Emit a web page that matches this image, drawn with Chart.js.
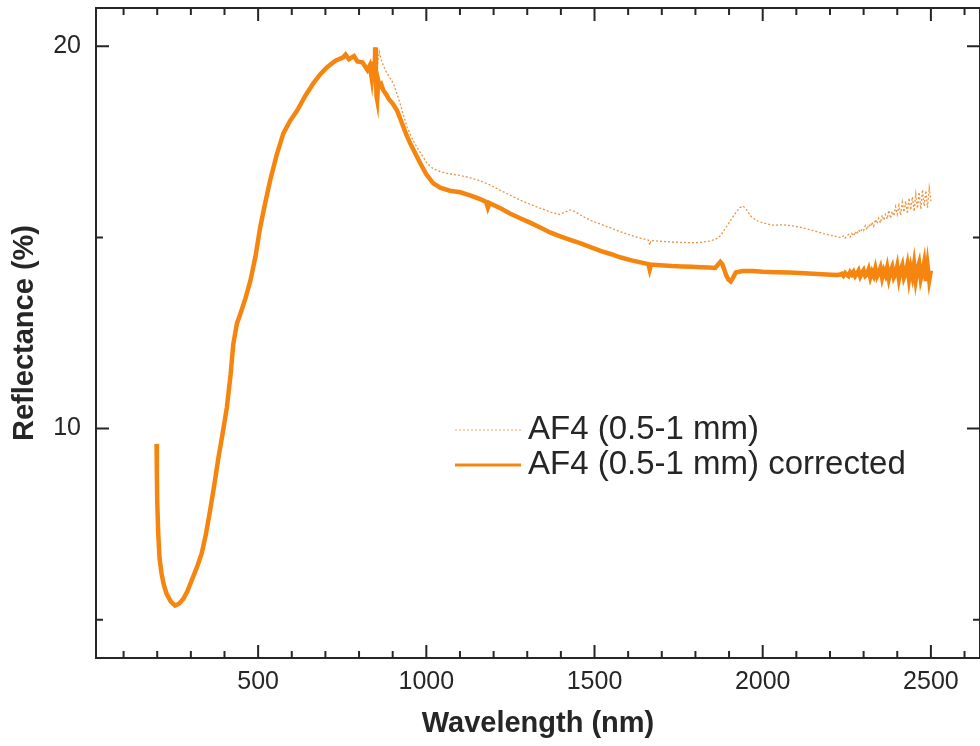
<!DOCTYPE html>
<html>
<head>
<meta charset="utf-8">
<title>Reflectance AF4</title>
<script src="https://cdn.jsdelivr.net/npm/chart.js@4.4.0/dist/chart.umd.min.js"></script>
<style>
  html, body { margin: 0; padding: 0; background: #fff; }
  #wrap { width: 980px; height: 746px; position: relative; }
</style>
</head>
<body>
<div id="wrap"><canvas id="spectrum"></canvas></div>
<script>
// values (wavelength in nm, reflectance in %)
// part where both curves coincide
const wlShared = [198, 199, 200, 203, 207, 213, 220, 228, 240, 253, 265, 278, 290, 302, 317, 332, 345, 357, 370, 382, 395, 407, 418, 426, 437, 447, 462, 477, 492, 506, 521, 536, 555, 575, 595, 616, 640, 664, 685, 705, 730, 753, 760, 770, 785, 795, 810, 825, 832, 838];
const reflShared = [9.6, 8.8, 8.1, 7.25, 6.6, 6.2, 5.9, 5.68, 5.48, 5.37, 5.42, 5.55, 5.75, 6.02, 6.35, 6.73, 7.25, 7.85, 8.55, 9.24, 9.9, 10.55, 11.4, 12.2, 12.75, 13.0, 13.4, 13.87, 14.5, 15.26, 15.9, 16.5, 17.15, 17.72, 18.05, 18.32, 18.7, 19.03, 19.27, 19.45, 19.62, 19.71, 19.78, 19.66, 19.74, 19.6, 19.58, 19.38, 19.5, 19.15];

// raw spectrum after the detector change
const wlRaw = [843, 846, 848, 850, 853, 856, 860, 864, 872, 880, 890, 902, 913, 922, 932, 943, 957, 972, 987, 1002, 1020, 1041, 1070, 1101, 1130, 1160, 1190, 1220, 1250, 1280, 1310, 1340, 1370, 1395, 1412, 1428, 1445, 1465, 1490, 1520, 1550, 1576, 1610, 1640, 1660, 1664, 1668, 1695, 1730, 1760, 1790, 1814, 1840, 1860, 1875, 1890, 1905, 1920, 1932, 1942, 1952, 1965, 1980, 2000, 2030, 2060, 2090, 2120, 2150, 2180, 2210, 2230];
const reflRaw = [19.6, 19.3, 19.97, 19.5, 19.2, 19.6, 19.85, 19.7, 19.5, 19.35, 19.2, 19.03, 18.75, 18.5, 18.2, 17.88, 17.6, 17.36, 17.15, 16.94, 16.8, 16.72, 16.66, 16.62, 16.56, 16.48, 16.37, 16.23, 16.1, 15.97, 15.86, 15.76, 15.66, 15.6, 15.66, 15.72, 15.66, 15.55, 15.44, 15.34, 15.24, 15.15, 15.05, 14.97, 14.93, 14.8, 14.92, 14.9, 14.88, 14.87, 14.86, 14.87, 14.9, 14.95, 15.05, 15.25, 15.45, 15.65, 15.78, 15.82, 15.72, 15.55, 15.45, 15.38, 15.32, 15.33, 15.3, 15.25, 15.18, 15.1, 15.04, 15.0];

// corrected spectrum after the detector change
const wlCorr = [843, 846, 848, 850, 852, 854, 857, 861, 866, 872, 880, 890, 900, 913, 928, 940, 952, 967, 982, 1000, 1020, 1041, 1070, 1101, 1130, 1160, 1178, 1183, 1188, 1200, 1220, 1250, 1279, 1310, 1340, 1368, 1400, 1430, 1457, 1490, 1520, 1550, 1576, 1610, 1640, 1660, 1664, 1668, 1695, 1730, 1760, 1790, 1814, 1840, 1859, 1868, 1874, 1880, 1886, 1892, 1898, 1905, 1912, 1920, 1940, 1970, 2000, 2040, 2080, 2111, 2150, 2190, 2220, 2230];
const reflCorr = [19.6, 19.1, 19.97, 19.3, 18.7, 18.6, 19.1, 18.95, 19.0, 18.85, 18.75, 18.6, 18.5, 18.32, 17.98, 17.7, 17.46, 17.2, 16.94, 16.65, 16.42, 16.3, 16.22, 16.18, 16.1, 16.0, 15.93, 15.78, 15.9, 15.85, 15.76, 15.62, 15.5, 15.38, 15.25, 15.13, 15.02, 14.93, 14.85, 14.74, 14.64, 14.56, 14.48, 14.4, 14.34, 14.3, 14.16, 14.29, 14.27, 14.25, 14.24, 14.23, 14.22, 14.21, 14.2, 14.3, 14.36, 14.3, 14.15, 14.0, 13.9, 13.85, 13.95, 14.08, 14.12, 14.12, 14.1, 14.09, 14.08, 14.07, 14.05, 14.03, 14.02, 14.03];

// noisy tail of both spectra
const wlTail = [2235, 2240, 2245, 2250, 2255, 2260, 2265, 2270, 2275, 2280, 2285, 2290, 2295, 2300, 2305, 2310, 2315, 2320, 2325, 2330, 2335, 2340, 2345, 2350, 2355, 2360, 2365, 2370, 2375, 2380, 2385, 2390, 2395, 2400, 2405, 2410, 2415, 2420, 2425, 2430, 2435, 2440, 2445, 2450, 2455, 2460, 2465, 2470, 2475, 2480, 2485, 2490, 2495, 2500];
const reflRawTail = [15.0, 15.04, 14.98, 15.03, 15.08, 15.01, 15.1, 15.04, 15.15, 15.08, 15.2, 15.14, 15.22, 15.18, 15.31, 15.2, 15.34, 15.28, 15.4, 15.29, 15.47, 15.36, 15.5, 15.38, 15.58, 15.45, 15.6, 15.48, 15.71, 15.5, 15.68, 15.56, 15.8, 15.6, 15.84, 15.58, 15.92, 15.66, 15.95, 15.62, 16.03, 15.72, 16.06, 15.68, 16.14, 15.76, 16.18, 15.74, 16.25, 15.82, 16.22, 15.78, 16.3, 15.95];
const reflCorrTail = [14.05, 14.0, 14.07, 14.02, 13.99, 14.09, 14.03, 14.1, 13.99, 14.05, 14.13, 13.98, 14.07, 14.14, 13.99, 14.03, 14.16, 13.96, 14.1, 14.0, 14.19, 13.98, 14.07, 14.2, 13.95, 14.13, 14.02, 14.21, 13.93, 14.12, 14.23, 13.96, 14.05, 14.25, 13.92, 14.14, 14.27, 13.95, 14.07, 14.28, 13.91, 14.2, 13.99, 14.3, 13.89, 14.16, 14.32, 13.92, 14.1, 14.34, 13.86, 14.27, 13.88, 14.13];

// axis ticks
const xMajorTicks = [500, 1000, 1500, 2000, 2500];
const xMinorTicks = [100, 200, 300, 400, 600, 700, 800, 900, 1100, 1200, 1300, 1400, 1600, 1700, 1800, 1900, 2100, 2200, 2300, 2400, 2600];
const yMajorTicks = [10, 20];
const yMinorTicks = [5, 15];

const seriesNames = ['AF4 (0.5-1 mm)', 'AF4 (0.5-1 mm) corrected'];

function toPoints(xs, ys) {
    return xs.map((x, i) => ({ x: x, y: ys[i] }));
}

const rawPoints = toPoints(wlShared, reflShared)
    .concat(toPoints(wlRaw, reflRaw), toPoints(wlTail, reflRawTail));
const corrPoints = toPoints(wlShared, reflShared)
    .concat(toPoints(wlCorr, reflCorr), toPoints(wlTail, reflCorrTail));

const FONT = '"Liberation Sans", Arial, Helvetica, sans-serif';
const INK = '#262626';

// frame with inward ticks on all four sides, plus the legend inside the plot
const framePlugin = {
    id: 'frame',
    afterDraw(chart) {
        const { ctx, chartArea: a, scales: { x, y } } = chart;
        ctx.save();
        ctx.strokeStyle = INK;
        ctx.lineWidth = 2;
        ctx.strokeRect(a.left, a.top, a.right - a.left, a.bottom - a.top);

        ctx.beginPath();
        const vTick = (v, len) => {
            const px = x.getPixelForValue(v);
            ctx.moveTo(px, a.bottom); ctx.lineTo(px, a.bottom - len);
            ctx.moveTo(px, a.top); ctx.lineTo(px, a.top + len);
        };
        const hTick = (v, len) => {
            const py = y.getPixelForValue(v);
            ctx.moveTo(a.left, py); ctx.lineTo(a.left + len, py);
            ctx.moveTo(a.right, py); ctx.lineTo(a.right - len, py);
        };
        xMajorTicks.forEach(v => vTick(v, 13));
        xMinorTicks.forEach(v => vTick(v, 7));
        yMajorTicks.forEach(v => hTick(v, 13));
        yMinorTicks.forEach(v => hTick(v, 7));
        ctx.stroke();

        // legend
        const lx = 455, ly = 430, rowGap = 35;
        chart.data.datasets.forEach((ds, i) => {
            const yy = ly + i * rowGap;
            ctx.beginPath();
            ctx.strokeStyle = i === 0 ? '#f3c493' : ds.borderColor;
            ctx.lineWidth = i === 0 ? 1.5 : 3;
            ctx.setLineDash(ds.borderDash || []);
            ctx.moveTo(lx, yy);
            ctx.lineTo(lx + 66, yy);
            ctx.stroke();
            ctx.setLineDash([]);
            ctx.fillStyle = INK;
            ctx.font = '33px ' + FONT;
            ctx.textBaseline = 'middle';
            ctx.textAlign = 'left';
            ctx.fillText(ds.label, lx + 73, yy);
        });
        ctx.restore();
    }
};

new Chart(document.getElementById('spectrum'), {
    type: 'line',
    data: {
        datasets: [
            {
                label: seriesNames[0],
                data: rawPoints,
                borderColor: '#ec9440',
                borderWidth: 1.3,
                borderDash: [2, 2],
                pointRadius: 0,
                tension: 0,
                order: 1
            },
            {
                label: seriesNames[1],
                data: corrPoints,
                borderColor: '#f5850f',
                borderWidth: 4.5,
                pointRadius: 0,
                tension: 0,
                order: 0
            }
        ]
    },
    options: {
        responsive: true,
        maintainAspectRatio: false,
        animation: false,
        layout: { padding: { top: 8, right: 0, left: 0, bottom: 0 } },
        plugins: {
            legend: { display: false },
            tooltip: { enabled: false }
        },
        scales: {
            x: {
                type: 'linear',
                min: 18,
                max: 2646,
                grid: { display: false, drawTicks: false },
                border: { display: false },
                afterBuildTicks: s => { s.ticks = xMajorTicks.map(v => ({ value: v })); },
                afterFit: s => { s.height = 88; s.paddingLeft = 0; s.paddingRight = 0; },
                ticks: {
                    padding: 9,
                    maxRotation: 0,
                    color: INK,
                    font: { family: FONT, size: 25 },
                    callback: v => String(v)
                },
                title: {
                    display: true,
                    text: 'Wavelength (nm)',
                    color: INK,
                    padding: { top: 0, bottom: 5 },
                    font: { family: FONT, size: 29, weight: 'bold' }
                }
            },
            y: {
                min: 4,
                max: 21,
                grid: { display: false, drawTicks: false },
                border: { display: false },
                afterBuildTicks: s => { s.ticks = yMajorTicks.map(v => ({ value: v })); },
                afterFit: s => { s.width = 96; s.paddingTop = 0; s.paddingBottom = 0; },
                ticks: {
                    padding: 15,
                    color: INK,
                    font: { family: FONT, size: 25 },
                    callback: v => String(v)
                },
                title: {
                    display: true,
                    text: 'Reflectance (%)',
                    color: INK,
                    padding: { top: 8, bottom: 0 },
                    font: { family: FONT, size: 29, weight: 'bold' }
                }
            }
        }
    },
    plugins: [framePlugin]
});
</script>
</body>
</html>
